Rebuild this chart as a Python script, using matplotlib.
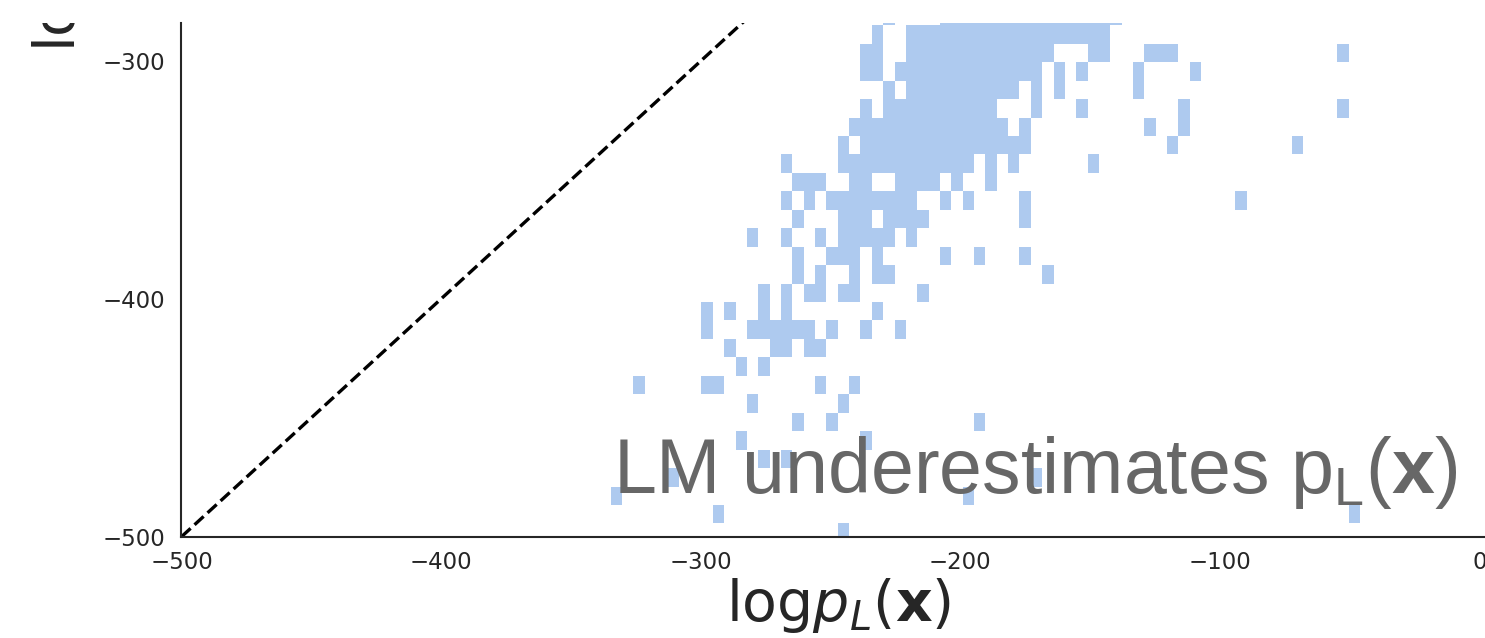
#! /usr/bin/env python

import matplotlib
matplotlib.use('Agg')
import matplotlib.pyplot as plt
from matplotlib.colors import ListedColormap
from matplotlib.transforms import Bbox, TransformedBbox
import numpy as np


# constants
OUT_FILE = 'out.png'
CELL_COLOR = '#aecaef'
NOTE_COLOR = '#676767'
INK = '#262626'

# histogram grid: one bin edge and the bin width per axis
X_EDGE0 = -282.16
X_BIN = 4.375
Y_EDGE0 = -292.68
Y_BIN = 7.759

# visible window and the diagonal reference
X_LIM = (-500, 2.2)
Y_LIM = (-500, -284.1)
DIAG = [-500, 0]
X_TICKS = [-500, -400, -300, -200, -100, 0]
Y_TICKS = [-500, -400, -300]

# log p_LM(x) of every histogram row (bin centres, top to bottom)
row_log_plm = [
    -281.0, -288.8, -296.6, -304.3, -312.1, -319.8, -327.6, -335.4, -343.1,
    -350.9, -358.6, -366.4, -374.2, -381.9, -389.7, -397.4, -405.2, -412.9,
    -420.7, -428.5, -436.2, -444.0, -451.7, -459.5, -467.3, -475.0, -482.8,
    -490.5, -498.3,
]

# log p_L(x) of the filled cells in each of those rows
row_log_pl = [
    [-227.5, -205.6, -201.2, -196.8, -192.5, -188.1, -183.7, -179.3, -175.0,
     -170.6, -166.2, -161.8, -157.5, -153.1, -148.7, -144.3, -140.0],
    [-231.8, -218.7, -214.3, -210.0, -205.6, -201.2, -196.8, -192.5, -188.1,
     -183.7, -179.3, -175.0, -170.6, -166.2, -161.8, -157.5, -153.1, -148.7,
     -144.3],
    [-236.2, -231.8, -218.7, -214.3, -210.0, -205.6, -201.2, -196.8, -192.5,
     -188.1, -183.7, -179.3, -175.0, -170.6, -166.2, -148.7, -144.3, -126.8,
     -122.5, -118.1, -52.5],
    [-236.2, -231.8, -223.1, -218.7, -214.3, -210.0, -205.6, -201.2, -196.8,
     -192.5, -188.1, -183.7, -179.3, -175.0, -170.6, -161.8, -153.1, -131.2,
     -109.3],
    [-227.5, -218.7, -214.3, -210.0, -205.6, -201.2, -196.8, -192.5, -188.1,
     -183.7, -179.3, -170.6, -161.8, -131.2],
    [-236.2, -227.5, -223.1, -218.7, -214.3, -210.0, -205.6, -201.2, -196.8,
     -192.5, -188.1, -170.6, -153.1, -113.7, -52.5],
    [-240.6, -236.2, -231.8, -227.5, -223.1, -218.7, -214.3, -210.0, -205.6,
     -201.2, -196.8, -192.5, -188.1, -183.7, -175.0, -126.8, -113.7],
    [-245.0, -236.2, -231.8, -227.5, -223.1, -218.7, -214.3, -210.0, -205.6,
     -201.2, -196.8, -192.5, -188.1, -183.7, -179.3, -175.0, -118.1, -70.0],
    [-266.8, -245.0, -240.6, -236.2, -231.8, -227.5, -223.1, -218.7, -214.3,
     -210.0, -205.6, -201.2, -196.8, -188.1, -179.3, -148.7],
    [-262.5, -258.1, -253.7, -240.6, -236.2, -223.1, -218.7, -214.3, -210.0,
     -201.2, -188.1],
    [-266.8, -258.1, -249.3, -245.0, -240.6, -236.2, -231.8, -227.5, -223.1,
     -218.7, -205.6, -196.8, -175.0, -91.8],
    [-262.5, -245.0, -240.6, -236.2, -227.5, -223.1, -218.7, -214.3, -175.0],
    [-280.0, -266.8, -253.7, -245.0, -240.6, -236.2, -231.8, -227.5, -218.7],
    [-262.5, -249.3, -245.0, -240.6, -231.8, -205.6, -192.5, -175.0],
    [-262.5, -253.7, -240.6, -231.8, -227.5, -166.2],
    [-275.6, -266.8, -258.1, -253.7, -245.0, -240.6, -214.3],
    [-297.5, -288.7, -275.6, -266.8, -231.8],
    [-297.5, -280.0, -275.6, -271.2, -266.8, -262.5, -258.1, -249.3, -236.2,
     -223.1],
    [-288.7, -271.2, -266.8, -258.1, -253.7],
    [-284.3, -275.6],
    [-323.7, -297.5, -293.1, -253.7, -240.6],
    [-280.0, -245.0],
    [-262.5, -249.3, -192.5],
    [-284.3, -236.2],
    [-275.6, -266.8],
    [-310.6, -170.6],
    [-332.5, -196.8],
    [-293.1, -48.1],
    [-245.0],
]


def flatten_cells():
    """
    flatten_cells:
    Args: -
    Returns: x [array], y [array]
    Turns the row lists into one pair of sample arrays.
    """
    x, y = [], []
    for y_val, x_vals in zip(row_log_plm, row_log_pl):
        x.extend(x_vals)
        y.extend([y_val] * len(x_vals))
    return(np.array(x), np.array(y))


def make_plot():
    """
    make_plot:
    Args: -
    Returns: -
    Draws the 2d histogram, the diagonal and the labels.
    """
    plt.rcParams['mathtext.fontset'] = 'custom'
    plt.rcParams['mathtext.rm'] = 'Liberation Sans'
    plt.rcParams['mathtext.it'] = 'Liberation Sans:italic'
    plt.rcParams['mathtext.bf'] = 'Liberation Sans:bold'

    fig = plt.figure(figsize=(14.85, 6.38), dpi=100)
    ax = fig.add_axes([0.12222, 0.15878, 0.87778, 0.8047])

    x, y = flatten_cells()
    x_edges = X_EDGE0 + X_BIN * np.arange(-14, 56)
    y_edges = np.sort(Y_EDGE0 - Y_BIN * np.arange(-3, 28))
    ax.hist2d(x, y, bins=[x_edges, y_edges], cmin=0.5,
              cmap=ListedColormap([CELL_COLOR]), zorder=1)

    ax.plot(DIAG, DIAG, color='black', linestyle='--', lw=2.4, zorder=2)

    ax.set_xlim(*X_LIM)
    ax.set_ylim(*Y_LIM)
    ax.set_xticks(X_TICKS)
    ax.set_yticks(Y_TICKS)
    ax.tick_params(axis='both', length=0, labelsize=16.5, colors=INK)
    ax.tick_params(axis='x', pad=10.3)
    ax.tick_params(axis='y', pad=12)
    for side in ('top', 'right'):
        ax.spines[side].set_visible(False)
    for side in ('left', 'bottom'):
        ax.spines[side].set_color(INK)
        ax.spines[side].set_linewidth(1.5)

    ax.set_xlabel(r'$\mathrm{log}p_L(\mathbf{x})$', fontsize=41, color=INK,
                  math_fontfamily='dejavusans')
    ax.xaxis.set_label_coords(0.5044, -0.077, transform=ax.transAxes)
    ax.xaxis.label.set_va('top')

    # y label only shows its first letters, the rest is cut off at the top
    ylab = fig.text(0.0505, 0.9185, r'$\mathrm{log}p_{LM}(\mathbf{x})$',
                    fontsize=41, color=INK, rotation=90,
                    rotation_mode='anchor', ha='left', va='baseline',
                    math_fontfamily='dejavusans')
    ylab.set_clip_box(TransformedBbox(Bbox([[0, 0], [1, 0.9635]]),
                                      fig.transFigure))
    ylab.set_clip_on(True)

    ax.text(0.9793, 0.0845, r'LM underestimates $\mathrm{p}_\mathrm{L}(\mathbf{x})$',
            transform=ax.transAxes, ha='right', va='baseline',
            fontsize=55.5, color=NOTE_COLOR, family='Liberation Sans',
            math_fontfamily='custom', zorder=3)

    fig.savefig(OUT_FILE, dpi=100)


def main():
    """
    main:
    Args: -
    Returns: -
    """
    make_plot()


if __name__ == "__main__":
    main()
